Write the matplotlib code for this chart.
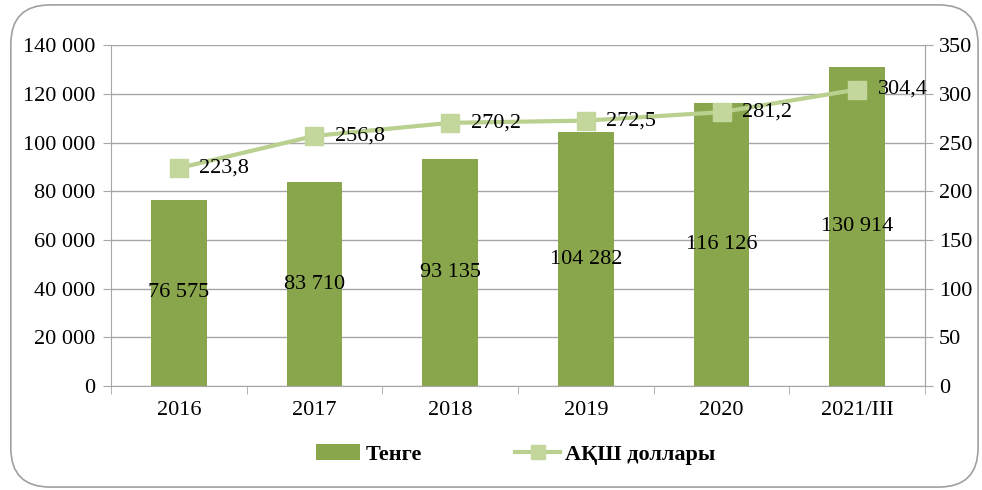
import matplotlib.pyplot as plt
from matplotlib.patches import FancyBboxPatch
from matplotlib.lines import Line2D
from matplotlib.patches import Patch
from matplotlib.ticker import FuncFormatter
import numpy as np

plt.rcParams['font.family'] = ['Liberation Serif', 'DejaVu Serif']

years = ["2016", "2017", "2018", "2019", "2020", "2021/ІІІ"]
tenge = [76575, 83710, 93135, 104282, 116126, 130914]
usd = [223.8, 256.8, 270.2, 272.5, 281.2, 304.4]

bar_color = "#8AA64C"
line_color = "#B9D08F"
grid_color = "#A6A6A6"
fs = 16

fig = plt.figure(figsize=(9.82, 4.9), dpi=100)
fig.patches.append(FancyBboxPatch((0.011, 0.006), 0.985, 0.984, boxstyle="round,pad=0,rounding_size=0.04",
                                  transform=fig.transFigure, facecolor="none", edgecolor="#A0A0A0", lw=1.2,
                                  mutation_aspect=2.0))
ax = fig.add_axes([0.113, 0.212, 0.829, 0.696])
ax.set_facecolor("none")
x = np.arange(len(years))

ax.bar(x, tenge, width=0.41, color=bar_color, zorder=2)
for xi, v in zip(x, tenge):
    ax.text(xi, v / 2, f"{v:,}".replace(",", " "), ha="center", va="center", fontsize=fs, zorder=5)

ax.set_ylim(0, 140000)
ax.set_xlim(-0.5, len(years) - 0.5)
ax.set_yticks(range(0, 140001, 20000))
ax.yaxis.set_major_formatter(FuncFormatter(lambda v, p: f"{int(v):,}".replace(",", " ")))
ax.grid(axis="y", color=grid_color, lw=1, zorder=0)
ax.set_xticks(x)
ax.set_xticklabels(years)
ax.set_xticks(np.arange(-0.5, len(years), 1), minor=True)
ax.tick_params(axis="x", which="major", length=0, pad=11, labelsize=fs)
ax.tick_params(axis="x", which="minor", length=6, color=grid_color, direction="out")
ax.tick_params(axis="y", length=6, color=grid_color, labelsize=fs, pad=5)
for s in ["top"]:
    ax.spines[s].set_visible(False)
for s in ["left", "bottom", "right"]:
    ax.spines[s].set_color(grid_color)

ax2 = ax.twinx()
ax2.plot(x, usd, color=line_color, lw=3, marker="s", markersize=13,
         markerfacecolor="#C3D69B", markeredgecolor="#C3D69B", zorder=4)
for xi, v in zip(x, usd):
    ax2.text(xi + 0.15, v, f"{v}".replace(".", ","), ha="left", va="center", fontsize=fs, zorder=5)
ax2.set_ylim(0, 350)
ax2.set_yticks(range(0, 351, 50))
ax2.tick_params(axis="y", length=6, color=grid_color, labelsize=fs, pad=4)
for s in ["top", "left", "bottom"]:
    ax2.spines[s].set_visible(False)
ax2.spines["right"].set_color(grid_color)

handles = [Patch(facecolor=bar_color, label="Тенге"),
           Line2D([0], [0], color=line_color, lw=3, marker="s", markersize=10,
                  markerfacecolor="#C3D69B", markeredgecolor="#C3D69B", label="АҚШ доллары")]
fig.legend(handles=handles, loc="center", bbox_to_anchor=(0.525, 0.072), ncol=2, frameon=False,
           prop={"size": fs, "weight": "bold"}, columnspacing=4.2, handlelength=2.0, handletextpad=0.25)

fig.savefig("out.png", dpi=100)
